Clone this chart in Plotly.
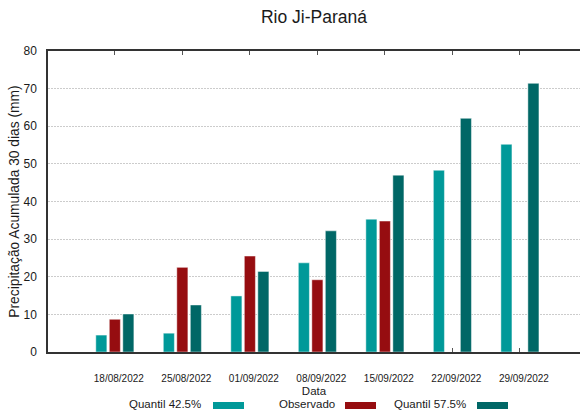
import plotly.graph_objects as go

datas = ["18/08/2022", "25/08/2022", "01/09/2022", "08/09/2022", "15/09/2022", "22/09/2022", "29/09/2022"]
quantil_425 = [4.5, 5.0, 14.9, 23.7, 35.3, 48.3, 55.2]
observado = [8.7, 22.5, 25.5, 19.2, 34.8, None, None]
quantil_575 = [10.1, 12.5, 21.4, 32.2, 47.0, 62.1, 71.4]

series_names = ["Quantil 42.5%", "Observado", "Quantil 57.5%"]
series_colors = ["#009999", "#960d10", "#006766"]

FONT = "Liberation Sans, Arial, sans-serif"

fig = go.Figure()
for name, vals, col in zip(series_names, [quantil_425, observado, quantil_575], series_colors):
    fig.add_trace(go.Bar(
        x=datas, y=vals, name=name, showlegend=False,
        marker=dict(color=col, line=dict(color="rgba(255,255,255,0.45)", width=1)),
    ))

W, H = 580, 413
L, R, T, B = 48, 0, 51, 61
pw, ph = W - L - R, H - T - B


def px(x):
    return (x - L) / pw


def py(y):
    return (H - B - y) / ph


# custom legend (text followed by swatch)
leg_items = [
    (series_names[0], 203, 213, 244),
    (series_names[1], 337, 345, 376),
    (series_names[2], 468, 477, 508),
]
for (name, tx, s0, s1), col in zip(leg_items, series_colors):
    fig.add_annotation(text=name, xref="paper", yref="paper", x=px(tx), y=py(404),
                       xanchor="right", yanchor="middle", showarrow=False,
                       font=dict(family=FONT, size=11.5, color="#1a1a1a"))
    fig.add_shape(type="rect", xref="paper", yref="paper",
                  x0=px(s0), x1=px(s1), y0=py(409), y1=py(402),
                  fillcolor=col, line=dict(width=0))

fig.update_layout(
    width=W, height=H,
    margin=dict(l=L, r=R, t=T, b=B, autoexpand=False),
    paper_bgcolor="white", plot_bgcolor="white",
    barmode="group", bargap=0.4, bargroupgap=0.18,
    title=dict(text="Rio Ji-Paraná", x=0.5, xref="paper", xanchor="center",
               y=1 - 17 / H, yref="container", yanchor="middle",
               font=dict(family=FONT, size=17.5, color="#1a1a1a")),
    font=dict(family=FONT, color="#1a1a1a"),
)

fig.update_xaxes(
    type="category", range=[-0.99, 6.89],
    showline=True, linecolor="#333333", linewidth=1.5, mirror="ticks",
    ticks="inside", ticklen=4, tickcolor="#555555", tickwidth=1.2,
    showgrid=False, layer="below traces",
    tickfont=dict(family=FONT, size=10, color="#1a1a1a"),
    ticklabelstandoff=16, ticklabelshift=4,
    title=dict(text="Data", standoff=4, font=dict(family=FONT, size=11.5, color="#1a1a1a")),
)
fig.update_yaxes(
    range=[0, 80], tickvals=[0, 10, 20, 30, 40, 50, 60, 70, 80],
    showline=True, linecolor="#333333", linewidth=1.5,
    ticks="", showgrid=True, gridcolor="#cccccc", gridwidth=1, griddash="2px,1px",
    zeroline=False, layer="below traces",
    tickfont=dict(family=FONT, size=12, color="#1a1a1a"),
    ticklabelstandoff=7,
    title=dict(text="Precipitação Acumulada 30 dias (mm)", standoff=1,
               font=dict(family=FONT, size=13.8, color="#1a1a1a")),
)

fig.write_html("out.html", config={"displayModeBar": False},
               post_script="document.body.style.margin='0';")
